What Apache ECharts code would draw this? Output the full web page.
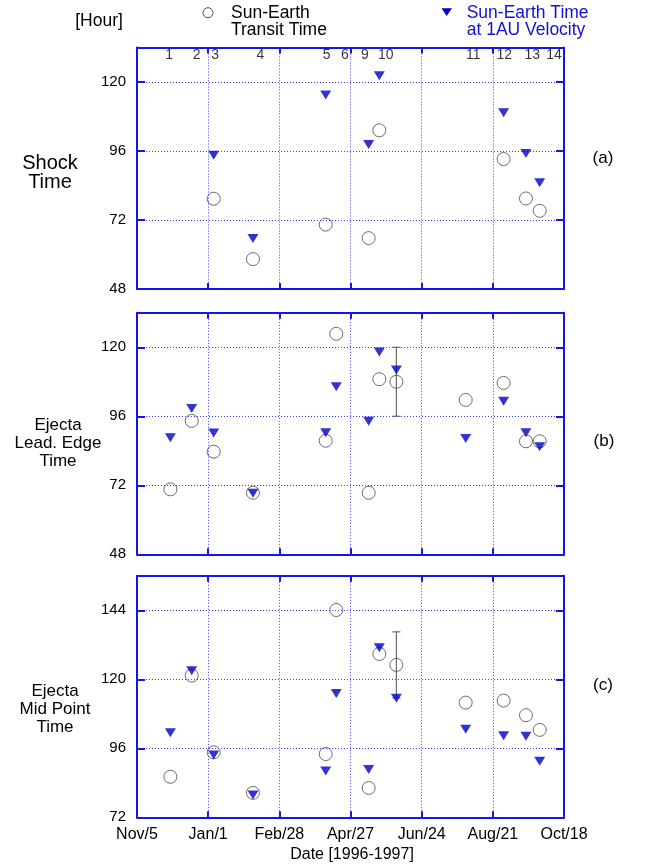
<!DOCTYPE html>
<html>
<head>
<meta charset="utf-8">
<script src="https://cdn.jsdelivr.net/npm/echarts@6/dist/echarts.min.js"></script>
<style>
html,body{margin:0;padding:0;background:#fff;}
#chart{width:665px;height:866px;}
</style>
</head>
<body>
<div id="chart"></div>
<script>
// ---------- DATA ----------
// x = days after Nov 5, 1996
const xTickLabels = ['Nov/5', 'Jan/1', 'Feb/28', 'Apr/27', 'Jun/24', 'Aug/21', 'Oct/18'];
const eventNames = ['1', '2', '3', '4', '5', '6', '9', '10', '11', '12', '13', '14'];
const eventLabelDays = [26.1, 48.6, 63.6, 100.5, 154.6, 169.5, 185.8, 202.7, 274.1, 299.4, 322.2, 339.9];
const pointDays = [27.2, 44.6, 62.5, 94.5, 153.8, 162.4, 188.8, 197.5, 211.4, 267.9, 298.8, 317.0, 328.2];
// (a) Shock time
const shockTransit = [null, null, 79.4, 58.4, 70.4, null, 65.7, 103.2, null, null, 93.2, 79.5, 75.2];
const shock1AU     = [null, null, 94.5, 65.6, 115.5, null, 98.3, 122.2, null, null, 109.3, 95.1, 85.0];
// (b) Ejecta leading edge time
const leadTransit = [70.6, 94.4, 83.7, 69.4, 87.5, 124.7, 69.4, 108.9, 108.0, 101.7, 107.6, 87.3, 87.3];
const lead1AU     = [88.5, 98.7, 90.2, 69.2, 90.3, 106.3, 94.3, 118.4, 112.1, 88.3, 101.2, 90.3, 85.4];
const leadErrLow  = [null, null, null, null, null, null, null, null, 96.0, null, null, null, null];
const leadErrHigh = [null, null, null, null, null, null, null, null, 120.0, null, null, null, null];
// (c) Ejecta mid point time
const midTransit = [86.1, 121.3, 94.6, 80.5, 94.0, 144.1, 82.2, 128.8, 125.0, 111.9, 112.6, 107.5, 102.4];
const mid1AU     = [101.4, 123.0, 93.7, 79.8, 88.1, 115.1, 88.6, 131.0, 113.4, 102.6, 100.4, 100.2, 91.5];
const midErrLow  = [null, null, null, null, null, null, null, null, 113.5, null, null, null, null];
const midErrHigh = [null, null, null, null, null, null, null, null, 136.5, null, null, null, null];
const yRanges = [[48, 132], [48, 132], [72, 156]];

// ---------- STYLE ----------
const FONT = '"Liberation Sans", Arial, Helvetica, sans-serif';
const FRAME = '#1414f0';
const GRIDC = '#3c3cff';
const TRI = '#0000c4';
const CIRC = '#4a4a4a';
const BLUETEXT = '#1010d8';

const tops = [47.5, 312.8, 575.8];
const grids = tops.map(t => ({left: 137, top: t, width: 427, height: 241.5}));

const xAxes = [], yAxes = [], series = [];
const pair = (vals) => pointDays.map((d, i) => vals[i] == null ? null : [d, vals[i]]).filter(v => v);

for (let i = 0; i < 3; i++) {
  xAxes.push({
    type: 'value', gridIndex: i, min: 0, max: 348, interval: 58, position: 'bottom',
    axisLine: {show: true, onZero: false, lineStyle: {color: FRAME, width: 2}},
    axisTick: {show: true, inside: true, length: 6, lineStyle: {color: FRAME, width: 2}},
    axisLabel: {show: i === 2, margin: 9, fontSize: 16, color: '#000', fontFamily: FONT,
      formatter: v => xTickLabels[Math.round(v / 58)] || ''},
    splitLine: {show: true, lineStyle: {color: GRIDC, type: [1, 2], width: 1}}
  });
  xAxes.push({
    type: 'value', gridIndex: i, min: 0, max: 348, interval: 58, position: 'top',
    axisLine: {show: true, onZero: false, lineStyle: {color: FRAME, width: 2}},
    axisTick: {show: true, inside: true, length: 6, lineStyle: {color: FRAME, width: 2}},
    axisLabel: {show: false}, splitLine: {show: false}
  });
  yAxes.push({
    type: 'value', gridIndex: i, min: yRanges[i][0], max: yRanges[i][1], interval: 24, position: 'left',
    axisLine: {show: true, onZero: false, lineStyle: {color: FRAME, width: 2}},
    axisTick: {show: true, inside: true, length: 8, lineStyle: {color: FRAME, width: 2}},
    axisLabel: {show: true, margin: 11, fontSize: 15, color: '#000', fontFamily: FONT, showMaxLabel: false},
    splitLine: {show: true, lineStyle: {color: GRIDC, type: [1, 2], width: 1}}
  });
  yAxes.push({
    type: 'value', gridIndex: i, min: yRanges[i][0], max: yRanges[i][1], interval: 24, position: 'right',
    axisLine: {show: true, onZero: false, lineStyle: {color: FRAME, width: 2}},
    axisTick: {show: true, inside: true, length: 8, lineStyle: {color: FRAME, width: 2}},
    axisLabel: {show: false}, splitLine: {show: false}
  });
}

const panelData = [
  {transit: shockTransit, au: shock1AU, lo: null, hi: null},
  {transit: leadTransit, au: lead1AU, lo: leadErrLow, hi: leadErrHigh},
  {transit: midTransit, au: mid1AU, lo: midErrLow, hi: midErrHigh}
];

panelData.forEach((p, i) => {
  const xi = i * 2, yi = i * 2;
  if (p.lo) {
    const errData = pointDays.map((d, k) => p.lo[k] == null ? null : [d, p.lo[k], p.hi[k]]).filter(v => v);
    series.push({
      type: 'custom', xAxisIndex: xi, yAxisIndex: yi, z: 1, silent: true,
      renderItem: (params, api) => {
        const x = api.value(0);
        const a = api.coord([x, api.value(1)]);
        const b = api.coord([x, api.value(2)]);
        const w = 4;
        const st = {stroke: '#6a6a6a', lineWidth: 1.2};
        return {type: 'group', children: [
          {type: 'line', shape: {x1: a[0], y1: a[1], x2: b[0], y2: b[1]}, style: st},
          {type: 'line', shape: {x1: a[0] - w, y1: a[1], x2: a[0] + w, y2: a[1]}, style: st},
          {type: 'line', shape: {x1: b[0] - w, y1: b[1], x2: b[0] + w, y2: b[1]}, style: st}
        ]};
      },
      data: errData
    });
  }
  series.push({
    type: 'scatter', xAxisIndex: xi, yAxisIndex: yi, z: 2, silent: true,
    symbol: 'circle', symbolSize: 13,
    itemStyle: {color: 'rgba(255,255,255,0)', borderColor: CIRC, borderWidth: 1},
    data: pair(p.transit)
  });
  series.push({
    type: 'scatter', xAxisIndex: xi, yAxisIndex: yi, z: 3, silent: true,
    symbol: 'triangle', symbolRotate: 180, symbolSize: [11, 9],
    itemStyle: {color: TRI},
    data: pair(p.au)
  });
});

// event number labels at top of panel (a)
series.push({
  type: 'scatter', xAxisIndex: 0, yAxisIndex: 0, z: 4, silent: true,
  symbolSize: 0,
  label: {show: true, position: 'inside', fontSize: 14, color: '#000', fontFamily: FONT,
    formatter: p => p.name},
  data: eventLabelDays.map((d, k) => ({name: eventNames[k], value: [d, 129.2]}))
});

function txt(text, x, y, size, color, lh, align) {
  return {type: 'text', silent: true, style: {
    text: text, x: x, y: y, fill: color || '#000',
    font: size + 'px ' + FONT, fontSize: size, fontFamily: FONT,
    align: align || 'center', textAlign: align || 'center',
    verticalAlign: 'middle', textVerticalAlign: 'middle',
    lineHeight: lh || size
  }};
}

const graphics = [
  txt('[Hour]', 99, 21.5, 17.5),
  {type: 'circle', silent: true, shape: {cx: 208, cy: 12.7, r: 5}, style: {fill: 'none', stroke: CIRC, lineWidth: 1}},
  txt('Sun-Earth\nTransit Time', 231, 21.4, 17.5, '#000', 17.3, 'left'),
  {type: 'polygon', silent: true, shape: {points: [[441.5, 8.2], [452, 8.2], [446.7, 16]]}, style: {fill: TRI}},
  txt('Sun-Earth Time\nat 1AU Velocity', 466.7, 21.4, 17.5, BLUETEXT, 17.3, 'left'),
  txt('Shock\nTime', 50, 173, 20, '#000', 19.5),
  txt('Ejecta\nLead. Edge\nTime', 58, 443, 17, '#000', 18),
  txt('Ejecta\nMid Point\nTime', 55, 709.5, 17, '#000', 17.8),
  txt('(a)', 603, 158, 17),
  txt('(b)', 604, 441.7, 17),
  txt('(c)', 603, 685, 17),
  txt('Date [1996-1997]', 352, 855, 16)
];

const chart = echarts.init(document.getElementById('chart'), null, {renderer: 'canvas'});
chart.setOption({
  animation: false,
  backgroundColor: '#fff',
  grid: grids,
  xAxis: xAxes,
  yAxis: yAxes,
  series: series,
  graphic: graphics
});
</script>
</body>
</html>
